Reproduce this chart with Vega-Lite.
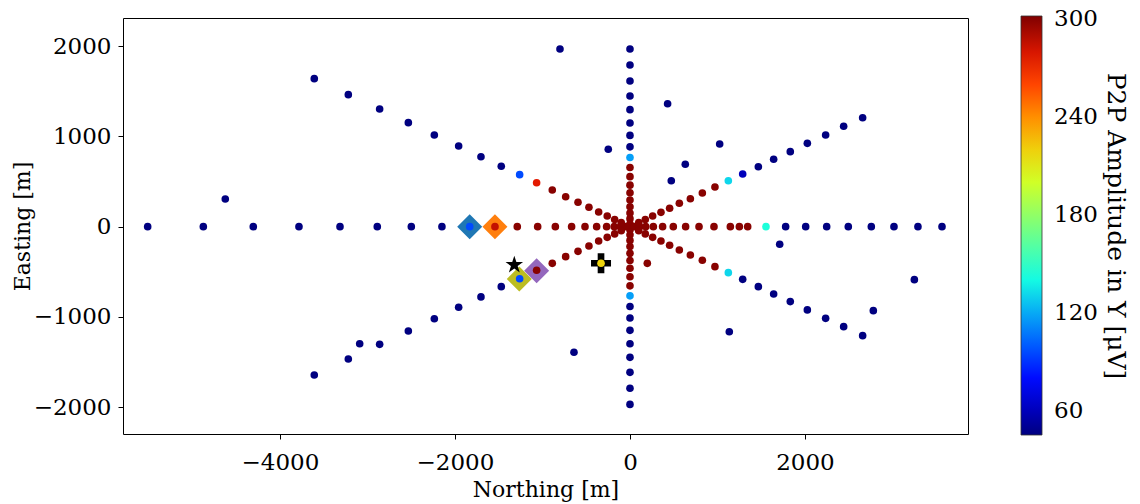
{
  "$schema": "https://vega.github.io/schema/vega-lite/v6.json",
  "width": 845,
  "height": 416,
  "autosize": {"type": "none"},
  "padding": {"left": 123, "top": 18, "right": 172, "bottom": 70},
  "background": "white",
  "config": {
    "font": "DejaVu Serif",
    "view": {"stroke": "black", "strokeWidth": 1},
    "axis": {
      "labelFont": "DejaVu Serif", "titleFont": "DejaVu Serif",
      "labelFontSize": 23, "titleFontSize": 22, "titleFontWeight": "normal",
      "labelColor": "black", "titleColor": "black", "tickColor": "black",
      "domain": false, "grid": false, "tickSize": 5, "tickWidth": 1
    }
  },
  "datasets": {
    "dots": [
      {"x": 0, "y": 1968, "v": 45}, {"x": 0, "y": 1790, "v": 45}, {"x": 0, "y": 1613, "v": 45}, {"x": 0, "y": 1447, "v": 45},
      {"x": 0, "y": 1296, "v": 45}, {"x": 0, "y": 1148, "v": 45}, {"x": 0, "y": 1011, "v": 45}, {"x": 0, "y": 884, "v": 45},
      {"x": 0, "y": 766, "v": 117}, {"x": 0, "y": 655, "v": 300}, {"x": 0, "y": 554, "v": 300}, {"x": 0, "y": 460, "v": 300},
      {"x": 0, "y": 375, "v": 300}, {"x": 0, "y": 295, "v": 300}, {"x": 0, "y": 220, "v": 300}, {"x": 0, "y": 152, "v": 300},
      {"x": 0, "y": 89, "v": 300}, {"x": 0, "y": 33, "v": 300}, {"x": 0, "y": 0, "v": 300},
      {"x": 0, "y": -33, "v": 300}, {"x": 0, "y": -89, "v": 300}, {"x": 0, "y": -152, "v": 300}, {"x": 0, "y": -220, "v": 300},
      {"x": 0, "y": -295, "v": 300}, {"x": 0, "y": -375, "v": 300}, {"x": 0, "y": -460, "v": 300}, {"x": 0, "y": -554, "v": 300},
      {"x": 0, "y": -655, "v": 300}, {"x": 0, "y": -766, "v": 117}, {"x": 0, "y": -884, "v": 45}, {"x": 0, "y": -1011, "v": 45},
      {"x": 0, "y": -1148, "v": 45}, {"x": 0, "y": -1296, "v": 45}, {"x": 0, "y": -1447, "v": 45}, {"x": 0, "y": -1613, "v": 45},
      {"x": 0, "y": -1790, "v": 45}, {"x": 0, "y": -1968, "v": 45},

      {"x": -5512, "y": 0, "v": 45}, {"x": -4876, "y": 0, "v": 45}, {"x": -4305, "y": 0, "v": 45}, {"x": -3783, "y": 0, "v": 45},
      {"x": -3314, "y": 0, "v": 45}, {"x": -2888, "y": 0, "v": 45}, {"x": -2499, "y": 0, "v": 45}, {"x": -2149, "y": 0, "v": 45},
      {"x": -1832, "y": 0, "v": 96}, {"x": -1543, "y": 0, "v": 285}, {"x": -1288, "y": 0, "v": 300}, {"x": -1055, "y": 0, "v": 300},
      {"x": -853, "y": 0, "v": 300}, {"x": -667, "y": 0, "v": 300}, {"x": -514, "y": 0, "v": 300}, {"x": -381, "y": 0, "v": 300},
      {"x": -267, "y": 0, "v": 300}, {"x": -180, "y": 0, "v": 300}, {"x": -110, "y": 0, "v": 300}, {"x": -50, "y": 0, "v": 300},
      {"x": 50, "y": 0, "v": 300}, {"x": 110, "y": 0, "v": 300}, {"x": 180, "y": 0, "v": 300}, {"x": 267, "y": 0, "v": 300},
      {"x": 373, "y": 0, "v": 300}, {"x": 495, "y": 0, "v": 300}, {"x": 636, "y": 0, "v": 300}, {"x": 789, "y": 0, "v": 300},
      {"x": 960, "y": 0, "v": 300}, {"x": 1147, "y": 0, "v": 300}, {"x": 1250, "y": 0, "v": 300}, {"x": 1345, "y": 0, "v": 300},
      {"x": 1554, "y": 0, "v": 144}, {"x": 1779, "y": 0, "v": 45}, {"x": 2008, "y": 0, "v": 45}, {"x": 2248, "y": 0, "v": 45},
      {"x": 2495, "y": 0, "v": 45}, {"x": 2758, "y": 0, "v": 45}, {"x": 3017, "y": 0, "v": 45}, {"x": 3291, "y": 0, "v": 45},
      {"x": 3566, "y": 0, "v": 45},

      {"x": -100, "y": 45, "v": 300}, {"x": -175, "y": 80, "v": 300}, {"x": -260, "y": 118, "v": 300}, {"x": -358, "y": 163, "v": 300},
      {"x": -469, "y": 215, "v": 300}, {"x": -594, "y": 270, "v": 300}, {"x": -735, "y": 332, "v": 300}, {"x": -888, "y": 406, "v": 300},
      {"x": -1067, "y": 487, "v": 277}, {"x": -1261, "y": 576, "v": 96}, {"x": -1471, "y": 669, "v": 45}, {"x": -1703, "y": 775, "v": 45},
      {"x": -1958, "y": 893, "v": 45}, {"x": -2236, "y": 1015, "v": 45}, {"x": -2533, "y": 1152, "v": 45}, {"x": -2861, "y": 1303, "v": 45},
      {"x": -3219, "y": 1462, "v": 45}, {"x": -3608, "y": 1639, "v": 45},

      {"x": -100, "y": -45, "v": 300}, {"x": -175, "y": -80, "v": 300}, {"x": -260, "y": -118, "v": 300}, {"x": -358, "y": -158, "v": 300},
      {"x": -469, "y": -214, "v": 300}, {"x": -594, "y": -273, "v": 300}, {"x": -735, "y": -332, "v": 300}, {"x": -888, "y": -406, "v": 300},
      {"x": -1067, "y": -483, "v": 300}, {"x": -1261, "y": -576, "v": 96}, {"x": -1471, "y": -664, "v": 45}, {"x": -1703, "y": -778, "v": 45},
      {"x": -1958, "y": -893, "v": 45}, {"x": -2236, "y": -1019, "v": 45}, {"x": -2533, "y": -1155, "v": 45}, {"x": -2861, "y": -1303, "v": 45},
      {"x": -3089, "y": -1296, "v": 45}, {"x": -3219, "y": -1465, "v": 45}, {"x": -3608, "y": -1642, "v": 45},

      {"x": 100, "y": 45, "v": 300}, {"x": 175, "y": 80, "v": 300}, {"x": 259, "y": 118, "v": 300}, {"x": 354, "y": 159, "v": 300},
      {"x": 453, "y": 204, "v": 300}, {"x": 564, "y": 259, "v": 300}, {"x": 690, "y": 310, "v": 300}, {"x": 827, "y": 373, "v": 300},
      {"x": 971, "y": 440, "v": 300}, {"x": 1124, "y": 509, "v": 131}, {"x": 1288, "y": 583, "v": 60}, {"x": 1467, "y": 664, "v": 45},
      {"x": 1642, "y": 746, "v": 45}, {"x": 1832, "y": 831, "v": 45}, {"x": 2027, "y": 923, "v": 45}, {"x": 2236, "y": 1015, "v": 45},
      {"x": 2442, "y": 1112, "v": 45}, {"x": 2659, "y": 1207, "v": 45},

      {"x": 100, "y": -45, "v": 300}, {"x": 175, "y": -80, "v": 300}, {"x": 259, "y": -118, "v": 300}, {"x": 354, "y": -158, "v": 300},
      {"x": 453, "y": -206, "v": 300}, {"x": 564, "y": -258, "v": 300}, {"x": 690, "y": -313, "v": 300}, {"x": 827, "y": -372, "v": 300},
      {"x": 971, "y": -443, "v": 300}, {"x": 1124, "y": -509, "v": 131}, {"x": 1288, "y": -583, "v": 45}, {"x": 1467, "y": -664, "v": 45},
      {"x": 1642, "y": -745, "v": 45}, {"x": 1832, "y": -830, "v": 45}, {"x": 2027, "y": -922, "v": 45}, {"x": 2236, "y": -1015, "v": 45},
      {"x": 2442, "y": -1107, "v": 45}, {"x": 2659, "y": -1207, "v": 45},

      {"x": -4625, "y": 307, "v": 45}, {"x": -800, "y": 1968, "v": 45}, {"x": -640, "y": -1391, "v": 45}, {"x": -248, "y": 858, "v": 45},
      {"x": 430, "y": 1362, "v": 45}, {"x": 1025, "y": 916, "v": 45}, {"x": 632, "y": 691, "v": 45}, {"x": 472, "y": 509, "v": 45},
      {"x": 1711, "y": -195, "v": 45}, {"x": 3250, "y": -587, "v": 45}, {"x": 2781, "y": -930, "v": 45}, {"x": 1135, "y": -1163, "v": 45},
      {"x": 198, "y": -406, "v": 300}, {"x": -331, "y": -405, "v": 219}
    ],
    "diamonds": [
      {"x": -1832, "y": 0, "c": "#1f77b4"},
      {"x": -1543, "y": 0, "c": "#ff7f0e"},
      {"x": -1265, "y": -579, "c": "#bcbd22"},
      {"x": -1067, "y": -487, "c": "#9467bd"}
    ],
    "star": [{"x": -1322, "y": -424}],
    "plus": [{"x": -331, "y": -405}]
  },
  "layer": [
    {
      "data": {"name": "diamonds"},
      "mark": {"type": "point", "shape": "diamond", "filled": true, "size": 625, "opacity": 1, "strokeWidth": 0},
      "encoding": {
        "x": {"field": "x", "type": "quantitative", "scale": {"domain": [-5794, 3863], "nice": false, "zero": false},
              "axis": {"values": [-4000, -2000, 0, 2000], "format": "d", "title": "Northing [m]", "labelPadding": 12, "titlePadding": 5}},
        "y": {"field": "y", "type": "quantitative", "scale": {"domain": [-2296, 2311], "nice": false, "zero": false},
              "axis": {"values": [-2000, -1000, 0, 1000, 2000], "format": "d", "title": "Easting [m]", "labelPadding": 7, "titlePadding": -1}},
        "color": {"field": "c", "type": "nominal", "scale": null}
      }
    },
    {
      "data": {"name": "star"},
      "mark": {"type": "point", "shape": "M0,-1L0.2245,-0.309L0.951,-0.309L0.363,0.118L0.588,0.809L0,0.382L-0.588,0.809L-0.363,0.118L-0.951,-0.309L-0.2245,-0.309Z", "filled": true, "size": 340, "opacity": 1, "color": "black", "strokeWidth": 0},
      "encoding": {
        "x": {"field": "x", "type": "quantitative"},
        "y": {"field": "y", "type": "quantitative"}
      }
    },
    {
      "data": {"name": "plus"},
      "mark": {"type": "point", "shape": "M-1,-0.333L-0.333,-0.333L-0.333,-1L0.333,-1L0.333,-0.333L1,-0.333L1,0.333L0.333,0.333L0.333,1L-0.333,1L-0.333,0.333L-1,0.333Z", "filled": true, "size": 400, "opacity": 1, "color": "black", "strokeWidth": 0},
      "encoding": {
        "x": {"field": "x", "type": "quantitative"},
        "y": {"field": "y", "type": "quantitative"}
      }
    },
    {
      "data": {"name": "dots"},
      "mark": {"type": "circle", "size": 58, "opacity": 1, "strokeWidth": 0},
      "encoding": {
        "x": {"field": "x", "type": "quantitative"},
        "y": {"field": "y", "type": "quantitative"},
        "color": {
          "field": "v", "type": "quantitative",
          "scale": {
            "domain": [45, 77.125, 109.25, 141.375, 173.5, 205.625, 237.75, 269.875, 302],
            "range": ["#000080", "#0000ff", "#0080ff", "#15ffe2", "#7cff7a", "#e2ff15", "#ff9700", "#ff2000", "#800000"],
            "interpolate": "rgb", "clamp": true, "nice": false, "zero": false
          },
          "legend": {
            "orient": "none", "legendX": 898, "legendY": -2, "direction": "vertical",
            "gradientLength": 419, "gradientThickness": 21,
            "gradientStrokeColor": "#333333", "gradientStrokeWidth": 0.8,
            "values": [60, 120, 180, 240, 300],
            "labelFont": "DejaVu Serif", "labelFontSize": 23, "labelColor": "black",
            "labelBaseline": "middle", "labelOffset": 12, "labelOverlap": false,
            "title": "P2P Amplitude in Y [μV]", "titleOrient": "right", "titleAngle": 90, "titleLimit": 800,
            "titleFont": "DejaVu Serif", "titleFontSize": 25, "titleFontWeight": "normal", "titleColor": "black",
            "titleAnchor": "middle", "titlePadding": 5, "padding": 0,
            "encode": {"labels": {"enter": {"baseline": {"value": "middle"}}, "update": {"baseline": {"value": "middle"}}}}
          }
        }
      }
    }
  ]
}
